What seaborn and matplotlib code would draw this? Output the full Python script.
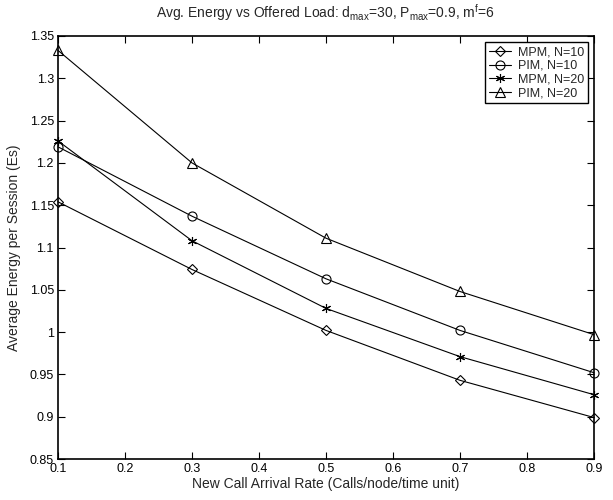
import numpy as np
import pandas as pd
import matplotlib
matplotlib.use("Agg")
import matplotlib.pyplot as plt
import matplotlib.ticker as mticker
import seaborn as sns

# data
arrival_rate = [0.1, 0.3, 0.5, 0.7, 0.9]
mpm_n10 = [1.154, 1.074, 1.002, 0.943, 0.899]
pim_n10 = [1.219, 1.137, 1.063, 1.002, 0.952]
mpm_n20 = [1.226, 1.108, 1.028, 0.971, 0.926]
pim_n20 = [1.333, 1.200, 1.111, 1.048, 0.997]
series_names = ["MPM, N=10", "PIM, N=10", "MPM, N=20", "PIM, N=20"]

xticks = [0.1, 0.2, 0.3, 0.4, 0.5, 0.6, 0.7, 0.8, 0.9]
yticks = [0.85, 0.9, 0.95, 1.0, 1.05, 1.1, 1.15, 1.2, 1.25, 1.3, 1.35]

frames = []
for name, vals in zip(series_names, [mpm_n10, pim_n10, mpm_n20, pim_n20]):
    frames.append(pd.DataFrame({"rate": arrival_rate, "energy": vals, "series": name}))
df = pd.concat(frames, ignore_index=True)

sns.set_style("ticks")
plt.rcParams["font.family"] = ["Liberation Sans", "DejaVu Sans"]
plt.rcParams["mathtext.fontset"] = "custom"
plt.rcParams["mathtext.rm"] = "Liberation Sans"
plt.rcParams["mathtext.it"] = "Liberation Sans:italic"
plt.rcParams["mathtext.bf"] = "Liberation Sans:bold"

fig = plt.figure(figsize=(6.13, 5.0), dpi=100)
ax = fig.add_axes([0.0946, 0.082, 0.8744, 0.846])

markers = {"MPM, N=10": "D", "PIM, N=10": "o", "MPM, N=20": "*", "PIM, N=20": "^"}
sns.lineplot(data=df, x="rate", y="energy", hue="series", style="series",
             hue_order=series_names, style_order=series_names,
             palette=["k"] * 4, markers=markers, dashes=False,
             legend=False, ax=ax, linewidth=0.8)

sizes = {"MPM, N=10": 5.5, "PIM, N=10": 6.5, "MPM, N=20": 6.5, "PIM, N=20": 7}
for line, name in zip(ax.lines, series_names):
    if name == "MPM, N=20":
        line.set_marker((6, 2, 0))  # asterisk, like matlab '*'
    line.set_markerfacecolor("none")
    line.set_markeredgecolor("k")
    line.set_markeredgewidth(0.8)
    line.set_markersize(sizes[name])
    line.set_clip_on(False)

ax.set_xlim(0.1, 0.9)
ax.set_ylim(0.85, 1.35)
ax.set_xticks(xticks)
ax.set_yticks(yticks)
ax.xaxis.set_major_formatter(mticker.FormatStrFormatter("%g"))
ax.yaxis.set_major_formatter(mticker.FormatStrFormatter("%g"))
ax.tick_params(direction="in", top=True, right=True, length=5, width=0.8,
               labelsize=9, pad=3, colors="k")
for sp in ax.spines.values():
    sp.set_visible(True)
    sp.set_linewidth(1.2)
    sp.set_color("k")

ax.set_xlabel("New Call Arrival Rate (Calls/node/time unit)", fontsize=10, labelpad=1)
ax.set_ylabel("Average Energy per Session (Es)", fontsize=10, labelpad=6)
ax.set_title(r"Avg. Energy vs Offered Load: d$_{\mathrm{max}}$=30, P$_{\mathrm{max}}$=0.9, m$^{\mathrm{f}}$=6",
             fontsize=10, pad=13)

leg = ax.legend(ax.lines, series_names, loc="upper right", fontsize=9,
                frameon=True, fancybox=False, edgecolor="k", framealpha=1,
                borderpad=0.3, labelspacing=0.15, handlelength=1.8,
                handletextpad=0.5, borderaxespad=0.5)
leg.get_frame().set_linewidth(1.0)

fig.savefig("out.png", dpi=100)
